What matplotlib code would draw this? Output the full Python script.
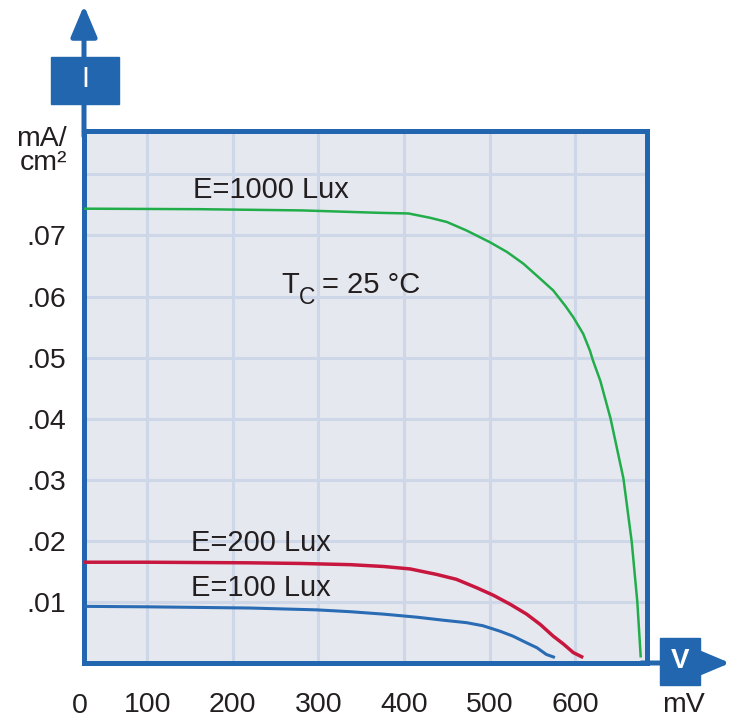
import matplotlib
matplotlib.use("Agg")
import matplotlib.pyplot as plt
from matplotlib.patches import Rectangle

# I-V curves (V in mV, I in mA/cm2)
V_1000 = [0, 160, 280, 372, 405, 430, 450, 473, 500, 520, 539, 559, 574, 588, 597.5, 609, 617,
          620, 629, 641, 656, 665.7, 672.2, 676.2]
I_1000 = [0.0744, 0.0743, 0.0741, 0.0737, 0.0736, 0.0729, 0.0722, 0.0708, 0.0689, 0.0673, 0.0654,
          0.0629, 0.0610, 0.0585, 0.0566, 0.0539, 0.0511, 0.0497, 0.0462, 0.0400, 0.0302, 0.0198,
          0.0100, 0.0009]

V_200 = [0, 100, 220, 278, 337, 376, 407, 438, 461, 485, 504, 524, 543, 559, 574, 586, 597.5, 609]
I_200 = [0.0165, 0.0165, 0.0164, 0.0163, 0.0161, 0.0158, 0.0154, 0.0145, 0.0137, 0.0123, 0.0111,
         0.0096, 0.0080, 0.0063, 0.0044, 0.0031, 0.0017, 0.0009]

V_100 = [0, 100, 220, 298, 337, 376, 415, 446, 473, 492, 512, 527, 543, 555, 566, 576]
I_100 = [0.0093, 0.0092, 0.0090, 0.0087, 0.0084, 0.0080, 0.0075, 0.0070, 0.0066, 0.0061, 0.0052,
         0.0044, 0.0033, 0.0025, 0.0014, 0.0009]

X_TICKS = [100, 200, 300, 400, 500, 600]
Y_TICKS = [0.01, 0.02, 0.03, 0.04, 0.05, 0.06, 0.07, 0.08]
Y_TICK_LABELS = [".01", ".02", ".03", ".04", ".05", ".06", ".07", ""]

CURVE_LABELS = ["E=1000 Lux", "E=200 Lux", "E=100 Lux"]

BLUE = "#2166ae"
TEXT = "#231f20"
STYLES = {
    "E=1000 Lux": {"color": "#22ad4b", "lw": 1.8},
    "E=200 Lux": {"color": "#c8173f", "lw": 2.5},
    "E=100 Lux": {"color": "#2a6cb4", "lw": 2.2},
}

plt.rcParams["font.family"] = ["Liberation Sans", "DejaVu Sans"]


def create_plot(output_path):
    fig = plt.figure(figsize=(7.3, 7.2), dpi=100)
    # axes box in pixels: left 84, right 647, top 131, bottom 663
    ax = fig.add_axes([84 / 730, 1 - 663 / 720, 563 / 730, 532 / 720])
    ax.set_facecolor("#e6e8f0")

    curves = [(V_1000, I_1000), (V_200, I_200), (V_100, I_100)]
    for name, (v, i) in zip(CURVE_LABELS, curves):
        st = STYLES[name]
        ax.plot(v, i, color=st["color"], linewidth=st["lw"], solid_capstyle="butt",
                solid_joinstyle="round", zorder=3)

    ax.set_xlim(26.3, 683.5)
    ax.set_ylim(0, 0.0871)
    ax.set_xticks(X_TICKS)
    ax.set_xticklabels([str(t) for t in X_TICKS])
    ax.set_yticks(Y_TICKS)
    ax.set_yticklabels(Y_TICK_LABELS)
    ax.tick_params(axis="both", length=0, labelsize=20.5, labelcolor=TEXT)
    ax.tick_params(axis="x", pad=21)
    ax.tick_params(axis="y", pad=13)
    ax.grid(True, color="#ced7e7", linewidth=2.2, zorder=1)
    ax.set_axisbelow(True)

    for sp in ax.spines.values():
        sp.set_color(BLUE)
        sp.set_linewidth(3.6)

    # curve labels
    ax.text(153, 0.0761, CURVE_LABELS[0], fontsize=21, color=TEXT, va="baseline")
    ax.text(151, 0.01836, CURVE_LABELS[1], fontsize=21, color=TEXT, va="baseline")
    ax.text(151, 0.01098, CURVE_LABELS[2], fontsize=21, color=TEXT, va="baseline")
    # T_C = 25 °C, subscript set by hand (larger and lower than mathtext)
    ax.text(257, 0.0605, "T", fontsize=21, color=TEXT, va="baseline")
    ax.text(277, 0.0588, "C", fontsize=16.5, color=TEXT, va="baseline")
    ax.text(304, 0.0605, "= 25 °C", fontsize=21, color=TEXT, va="baseline")

    # "0" sits at the corner, left of the first grid line
    ax.text(-0.007, -0.0565, "0", transform=ax.transAxes, fontsize=20.5, color=TEXT,
            ha="center", va="top")

    # axis arrows
    arrow = dict(arrowstyle="-|>,head_length=0.95,head_width=0.4", color=BLUE, lw=3.6,
                 mutation_scale=20, shrinkA=0, shrinkB=0)
    ax.annotate("", xy=(0, 1.236), xytext=(0, 0.99), xycoords="axes fraction", arrowprops=arrow)
    ax.annotate("", xy=(1.1474, 0), xytext=(0.99, 0), xycoords="axes fraction", arrowprops=arrow)

    # unit boxes
    fig.add_artist(Rectangle((51 / 730, 1 - 104 / 720), 68 / 730, 47 / 720,
                             transform=fig.transFigure, color=BLUE, zorder=5))
    fig.text(85 / 730, 1 - 79 / 720, "I", color="white", fontsize=21, ha="center", va="center",
             zorder=6)
    fig.add_artist(Rectangle((660 / 730, 1 - 685 / 720), 40 / 730, 47 / 720,
                             transform=fig.transFigure, color=BLUE, zorder=5))
    fig.text(680 / 730, 1 - 661 / 720, "V", color="white", fontsize=20, fontweight="bold",
             ha="center", va="center", zorder=6)

    # units
    fig.text(67 / 730, 1 - 146 / 720, "mA/", fontsize=20.5, color=TEXT, ha="right", va="baseline")
    fig.text(67 / 730, 1 - 170 / 720, "cm²", fontsize=20.5, color=TEXT, ha="right", va="baseline")
    fig.text(683 / 730, 1 - 712 / 720, "mV", fontsize=20.5, color=TEXT, ha="center", va="baseline")

    fig.savefig(output_path, dpi=100)
    plt.close(fig)


def main():
    create_plot("out.png")


if __name__ == "__main__":
    main()
